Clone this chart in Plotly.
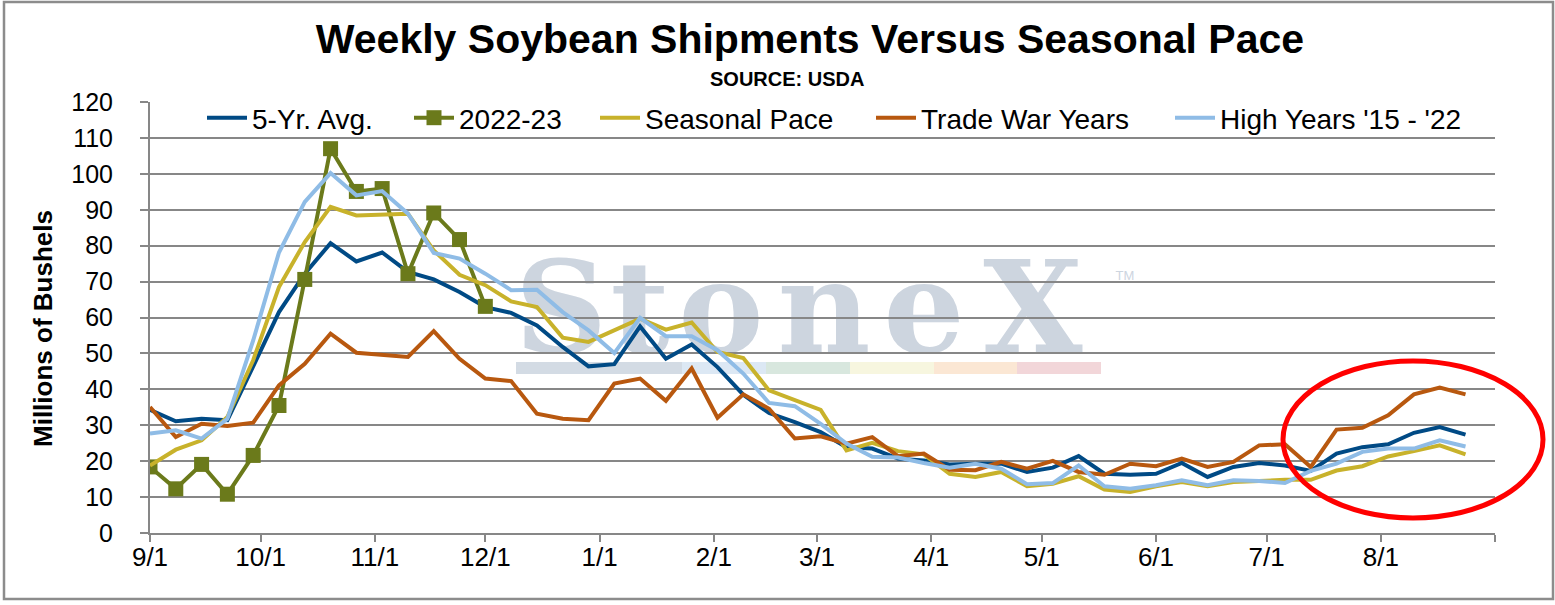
import pandas as pd
import plotly.graph_objects as go

# ---------------- data ----------------
week_start = "2022-09-01"
n_weeks = 52

five_yr_avg = [34.3, 31.1, 31.8, 31.4, 46.4, 61.5, 72.2, 80.7, 75.6, 78.1, 72.7, 70.6, 67.1, 62.9,
               61.3, 57.8, 51.8, 46.4, 47.0, 57.5, 48.5, 52.5, 46.2, 38.5, 33.4, 30.9, 28.1,
               23.9, 23.5, 20.7, 20.2, 19.1, 19.3, 19.3, 17.0, 18.2, 21.4, 16.5, 16.2, 16.5,
               19.5, 15.6, 18.4, 19.5, 18.8, 17.3, 22.1, 23.9, 24.7, 27.9, 29.5, 27.4]

my_2022_23 = [18.4, 12.3, 19.1, 10.8, 21.6, 35.5, 70.6, 107.0, 95.1, 95.9, 72.2, 89.1, 81.7, 63.1]

seasonal_pace = [18.8, 23.2, 25.8, 32.3, 48.1, 68.5, 81.0, 90.8, 88.4, 88.7, 88.9, 78.7, 71.9, 69.0,
                 64.5, 62.9, 54.4, 53.2, 56.4, 59.7, 56.6, 58.6, 50.4, 48.7, 39.7, 36.9, 34.3,
                 23.0, 25.1, 22.8, 21.9, 16.5, 15.6, 17.0, 13.0, 13.7, 15.8, 12.1, 11.4, 13.0,
                 14.2, 13.0, 14.2, 14.5, 14.8, 14.8, 17.4, 18.6, 21.3, 22.8, 24.4, 21.9]

trade_war_years = [35.1, 26.7, 30.4, 29.8, 30.7, 41.1, 47.1, 55.5, 50.2, 49.7, 49.0, 56.2, 48.5, 43.0,
                   42.3, 33.2, 31.8, 31.4, 41.6, 43.0, 36.8, 45.8, 32.1, 38.6, 34.6, 26.3, 26.9,
                   24.9, 26.7, 21.4, 22.1, 17.6, 17.5, 19.8, 17.9, 20.1, 17.0, 16.2, 19.3, 18.6,
                   20.7, 18.4, 19.8, 24.4, 24.7, 18.4, 28.8, 29.3, 32.8, 38.6, 40.5, 38.6]

high_years = [27.7, 28.6, 26.3, 31.8, 53.6, 78.1, 92.2, 100.2, 94.0, 95.2, 88.9, 78.0, 76.4, 72.2,
              67.6, 67.7, 61.5, 56.4, 50.1, 59.9, 54.8, 54.8, 50.9, 44.4, 36.2, 35.3, 30.4,
              24.9, 21.2, 21.0, 19.5, 18.2, 19.3, 17.9, 13.6, 13.9, 18.8, 13.0, 12.3, 13.3,
              14.7, 13.3, 14.7, 14.5, 13.9, 17.3, 19.3, 22.6, 23.5, 23.5, 25.8, 24.1]

tick_dates = ["2022-09-01", "2022-10-01", "2022-11-01", "2022-12-01", "2023-01-01", "2023-02-01",
              "2023-03-01", "2023-04-01", "2023-05-01", "2023-06-01", "2023-07-01", "2023-08-01",
              "2023-09-01"]
tick_labels = ["9/1", "10/1", "11/1", "12/1", "1/1", "2/1", "3/1", "4/1", "5/1", "6/1", "7/1", "8/1", ""]

y_ticks = list(range(0, 121, 10))

series_names = ["5-Yr. Avg.", "2022-23", "Seasonal Pace", "Trade War Years", "High Years '15 - '22"]

# ---------------- layout helpers ----------------
W, H = 1555, 605
L, R, T, B = 150, 60, 102, 72
PW, PH = W - L - R, H - T - B


def px_x(px):
    return (px - L) / PW


def px_y(py):
    return (H - B - py) / PH


dates = pd.date_range(start=week_start, periods=n_weeks, freq="7D")

colors = {
    "5-Yr. Avg.": "#004A85",
    "2022-23": "#6B7A1B",
    "Seasonal Pace": "#C8B22B",
    "Trade War Years": "#B8580F",
    "High Years '15 - '22": "#8FBCE6",
}
legend_widths = [152, 131, 221, 244, 255]

fig = go.Figure()

series_values = [five_yr_avg, my_2022_23, seasonal_pace, trade_war_years, high_years]
for name, vals, lw in zip(series_names, series_values, legend_widths):
    if name == "2022-23":
        kw = dict(mode="lines+markers",
                  marker=dict(symbol="square", size=15, color=colors[name]))
    else:
        kw = dict(mode="lines")
    fig.add_trace(go.Scatter(
        x=dates[:len(vals)], y=vals, name=name,
        line=dict(color=colors[name], width=4),
        legendwidth=lw,
        **kw))

grid_gray = "#878787"

fig.update_layout(
    width=W, height=H,
    margin=dict(l=L, r=R, t=T, b=B, autoexpand=False),
    paper_bgcolor="white", plot_bgcolor="white",
    font=dict(family="Liberation Sans, Arial, sans-serif", color="black"),
    title=dict(text="Weekly Soybean Shipments Versus Seasonal Pace",
               font=dict(size=41, weight="bold", color="black"),
               x=810 / W, xref="container", xanchor="center",
               y=1 - 39 / H, yref="container", yanchor="middle"),
    showlegend=True,
    legend=dict(orientation="h", x=px_x(202), xanchor="left",
                y=px_y(118), yanchor="middle",
                font=dict(size=28), bgcolor="rgba(0,0,0,0)",
                itemwidth=40, tracegroupgap=0),
    xaxis=dict(type="date", range=[tick_dates[0], tick_dates[-1]],
               tickmode="array", tickvals=tick_dates, ticktext=tick_labels,
               ticks="outside", ticklen=7, tickwidth=2, tickcolor=grid_gray,
               showline=True, linecolor=grid_gray, linewidth=2,
               showgrid=False, zeroline=False,
               tickfont=dict(size=26), ticklabelstandoff=-7),
    yaxis=dict(range=[0, 120], tickmode="array", tickvals=y_ticks,
               ticks="outside", ticklen=8, tickwidth=2, tickcolor=grid_gray,
               showline=True, linecolor=grid_gray, linewidth=2,
               showgrid=True, gridcolor=grid_gray, gridwidth=2, zeroline=False,
               tickfont=dict(size=25), ticklabelstandoff=22),
)

annotations = [
    dict(text="<b>SOURCE: USDA</b>", x=px_x(787), y=px_y(79), xref="paper", yref="paper",
         xanchor="center", yanchor="middle", showarrow=False, font=dict(size=20, color="black")),
    dict(text="<b>Millions of Bushels</b>", x=px_x(43), y=px_y(329), xref="paper", yref="paper",
         xanchor="center", yanchor="middle", showarrow=False, textangle=-90,
         font=dict(size=26, color="black")),
]
fig.update_layout(annotations=annotations)

shapes = []
# watermark letters
wm_color = "#CDD5DF"
for letter, cx in [("S", 561), ("t", 640), ("o", 721), ("n", 824), ("e", 924), ("X", 1033)]:
    shapes.append(dict(type="rect", xref="paper", yref="paper",
                       x0=px_x(cx - 40), x1=px_x(cx + 40), y0=px_y(348), y1=px_y(250),
                       line=dict(width=0), fillcolor="rgba(0,0,0,0)", layer="below",
                       label=dict(text=letter, textposition="middle center",
                                  font=dict(family="DejaVu Serif", size=128, weight="bold",
                                            color=wm_color))))
shapes.append(dict(type="rect", xref="paper", yref="paper",
                   x0=px_x(1108), x1=px_x(1142), y0=px_y(281), y1=px_y(267),
                   line=dict(width=0), fillcolor="rgba(0,0,0,0)", layer="below",
                   label=dict(text="TM", textposition="middle center",
                              font=dict(size=13, color=wm_color))))
# watermark colour bar
for x0, x1, c in [(516, 682, "#D3DBE4"), (682, 766, "#DCE8F4"), (766, 850, "#D8E7DE"),
                  (850, 934, "#F7F6DF"), (934, 1017, "#FBE7D4"), (1017, 1101, "#F2D6D9")]:
    shapes.append(dict(type="rect", xref="paper", yref="paper",
                       x0=px_x(x0), x1=px_x(x1), y0=px_y(374), y1=px_y(362),
                       line=dict(width=0), fillcolor=c, layer="below"))
# red ellipse highlight
shapes.append(dict(type="circle", xref="paper", yref="paper",
                   x0=px_x(1283), x1=px_x(1543), y0=px_y(518), y1=px_y(361),
                   line=dict(color="#FF0000", width=5), fillcolor="rgba(0,0,0,0)", layer="above"))
# outer frame
shapes.append(dict(type="rect", xref="paper", yref="paper",
                   x0=px_x(4), x1=px_x(1553), y0=px_y(599), y1=px_y(2),
                   line=dict(color="#8C8C8C", width=2.5), fillcolor="rgba(0,0,0,0)", layer="above"))
fig.update_layout(shapes=shapes)

fig.write_html("out.html", config={"displayModeBar": False},
               post_script="document.body.style.margin='0';document.body.style.overflow='hidden';")
